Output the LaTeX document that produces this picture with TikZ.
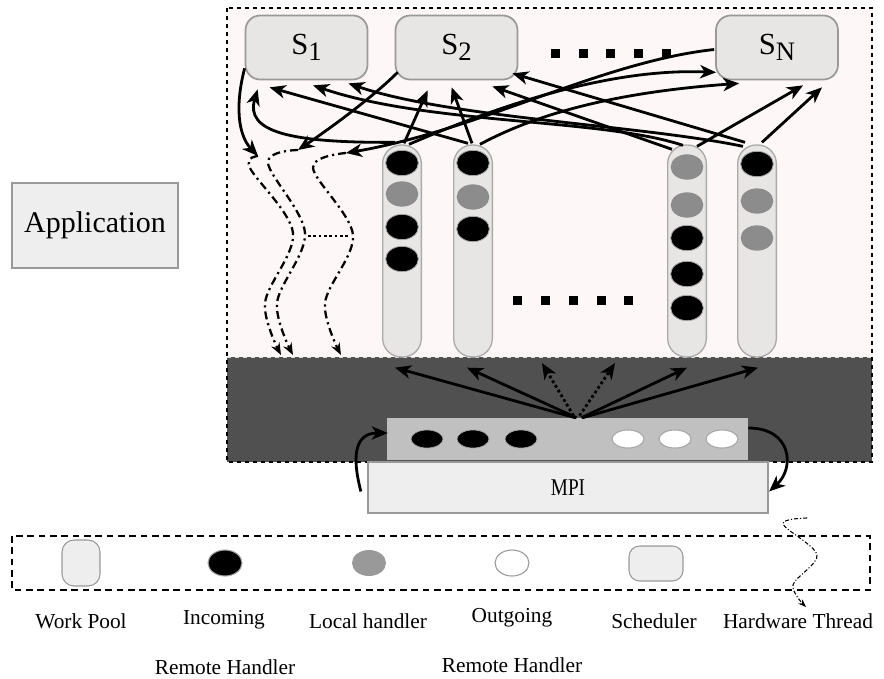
\documentclass[tikz,border=0pt]{standalone}
\usepackage{fontspec}
\setmainfont{Liberation Serif}
\usetikzlibrary{arrows.meta,calc,shapes.geometric}
\definecolor{pinkbg}{HTML}{FDF7F7}
\definecolor{darkband}{HTML}{505050}
\definecolor{poolfill}{HTML}{E8E5E5}
\definecolor{poolborder}{HTML}{AAAAAA}
\definecolor{schedfill}{HTML}{E8E5E5}
\definecolor{schedborder}{HTML}{999999}
\definecolor{handgray}{HTML}{8C8C8C}
\definecolor{leggray}{HTML}{999999}
\definecolor{buffill}{HTML}{C0C0C0}
\definecolor{lightbox}{HTML}{EEEEEE}
\newcommand\schedlabel[1]{{\fontsize{23}{26}\selectfont S\raisebox{-4pt}{\fontsize{20}{22}\selectfont #1}}}
\begin{document}
\begin{tikzpicture}[x=0.75pt,y=-0.75pt,
  sched/.style={draw=schedborder, line width=1.3pt, fill=schedfill, rounded corners=11pt, minimum width=91.5pt, minimum height=48pt, inner sep=0pt},
  pool/.style={draw=poolborder, line width=1pt, fill=poolfill, rounded corners=14pt, minimum width=29pt, minimum height=159pt, inner sep=0pt},
  blk/.style={ellipse, fill=black, draw=gray!70, line width=0.6pt, minimum width=24.5pt, minimum height=19pt, inner sep=0pt},
  gry/.style={ellipse, fill=handgray, minimum width=24.5pt, minimum height=19pt, inner sep=0pt},
  bblk/.style={ellipse, fill=black, draw=gray!70, line width=0.5pt, minimum width=24pt, minimum height=13.5pt, inner sep=0pt},
  bwht/.style={ellipse, fill=white, draw=gray!70, line width=0.8pt, minimum width=24pt, minimum height=13.5pt, inner sep=0pt},
  arr/.style={-{Stealth[length=12pt,width=10pt,inset=3.5pt]}, line width=2.1pt},
  hw/.style={dash pattern=on 6pt off 3pt on 1.6pt off 3pt, line width=1.7pt, -{Stealth[length=9pt,width=7pt,inset=3pt]}},
  lbl/.style={inner sep=0pt, font=\fontsize{16}{19}\selectfont},
  sq/.style={fill=black}
]
\useasboundingbox (0,0) rectangle (884,678);
% background regions
\fill[pinkbg] (227,8) rectangle (872,357);
\fill[darkband] (227,357) rectangle (872,462);
\draw[white!85!black, dashed, line width=0.6pt] (227,357) -- (872,357);
\draw[dashed, line width=0.8pt] (227,8) rectangle (872,462);

% application
\node[draw=schedborder, line width=1pt, fill=lightbox, minimum width=124.5pt, minimum height=63.75pt, inner sep=0pt,
      font=\fontsize{22.5}{27}\selectfont] (app) at (95,225.5) {Application};

% schedulers
\node[sched] (s1) at (306.5,47.5) {\schedlabel{1}};
\node[sched] (s2) at (456.5,47.5) {\schedlabel{2}};
\node[sched] (sn) at (777,47.5) {\schedlabel{N}};
\foreach \x in {555,583,610,638,666} \fill[sq] (\x-4.5,48.5) rectangle (\x+4.5,57.5);

% work pools
\node[pool] (p1) at (402,251) {};
\node[pool] (p2) at (473,251) {};
\node[pool] (p3) at (687,251) {};
\node[pool] (p4) at (757,251) {};
\node[blk] (p1a) at (402,163) {};
\node[gry] (p1b) at (402,194) {};
\node[blk] (p1c) at (402,227) {};
\node[blk] (p1d) at (402,259) {};
\node[blk] (p2a) at (473,163) {};
\node[gry] (p2b) at (473,197) {};
\node[blk] (p2c) at (473,229) {};
\node[gry] (p3a) at (687,167) {};
\node[gry] (p3b) at (687,205) {};
\node[blk] (p3c) at (687,238) {};
\node[blk] (p3d) at (687,274) {};
\node[blk] (p3e) at (687,308) {};
\node[blk] (p4a) at (757,164) {};
\node[gry] (p4b) at (757,201) {};
\node[gry] (p4c) at (757,238) {};
\foreach \x in {517,545,573,601,628} \fill[sq] (\x-4.5,296) rectangle (\x+4.5,305);

% pools -> schedulers
\draw[arr] ($(p1.north)+(-7,-2)$) .. controls (290,143) and (245,132) .. ($(s1.south west)+(13,9)$);
\draw[arr] ($(p1.north)+(2,-1)$) -- ($(s2.south west)+(33,10)$);
\draw[arr] ($(p1.north)+(7,0)$) .. controls (500,105) and (610,68) .. ($(sn.south west)+(1,-8)$);
\draw[arr] ($(p2.north)+(-5,-1)$) -- ($(s1.south west)+(25,7)$);
\draw[arr] ($(p2.north)+(-1,-1)$) -- ($(s2.south west)+(57,7)$);
\draw[arr] ($(p2.north)+(7,0)$) .. controls (540,112) and (620,92) .. ($(sn.south west)+(24,3)$);
\draw[arr] ($(p3.north)+(-4,1)$) .. controls (600,118) and (430,125) .. ($(s1.south)+(6.5,5)$);
\draw[arr] ($(p3.north)+(-15,5)$) -- ($(s2.south east)+(-26,6)$);
\draw[arr] ($(p3.north)+(10,2)$) -- ($(sn.south)+(26,5)$);
\draw[arr] ($(p4.north)+(-14,2)$) .. controls (640,125) and (450,118) .. ($(s1.south east)+(-20,3)$);
\draw[arr] ($(p4.north)+(-12,-2)$) -- ($(s2.south east)+(-6,-7)$);
\draw[arr] ($(p4.north)+(5,-2)$) -- ($(sn.south)+(45,7)$);

% hardware threads
\coordinate (h1) at (258,156);
\coordinate (h2) at (298,150);
\coordinate (h3) at (346,153);
\draw[arr] ($(s1.south west)+(0,-12)$) .. controls (235,105) and (238,135) .. (h1);
\draw[arr] ($(s2.south west)+(3,-8)$) .. controls (375,95) and (335,125) .. (h2);
\draw[arr] ($(sn.west)+(-1,2)$) .. controls (600,62) and (480,130) .. (h3);
\draw[hw] plot[smooth, tension=0.55] coordinates {(h1) (250,168) (293,233) (265,303) (281,355)};
\draw[hw] plot[smooth, tension=0.55] coordinates {(h2) (268,163) (305,233) (277,303) (293,355)};
\draw[hw] plot[smooth, tension=0.55] coordinates {(h3) (313,168) (353,235) (325,303) (341,355)};
\coordinate (dl) at (308,236);
\coordinate (dr) at (349,236);
\draw[dotted, line width=2pt] (dl) -- (dr);

% buffer and MPI
\node[fill=buffill, minimum width=270.75pt, minimum height=31.5pt, inner sep=0pt] (buf) at (567.5,439) {};
\node[bblk] (b1) at (427,439) {};
\node[bblk] (b2) at (473,439) {};
\node[bblk] (b3) at (521,439) {};
\node[bwht] (w1) at (628,439) {};
\node[bwht] (w2) at (675,439) {};
\node[bwht] (w3) at (722,439) {};
\node[draw=schedborder, line width=1.6pt, fill=lightbox, minimum width=300pt, minimum height=38pt, inner sep=0pt,
      font=\fontsize{18}{21}\selectfont] (mpi) at (568,487.5) {\scalebox{0.8}[1]{MPI}};

% buffer -> pools
\coordinate (d1) at (542,363);
\coordinate (d2) at (615,363);
\draw[arr] ($(buf.north)+(8,0)$) -- ($(p1.south)+(-7,10)$);
\draw[arr] ($(buf.north)+(9,0)$) -- ($(p2.south)+(-6,10)$);
\draw[arr, dotted] ($(buf.north)+(6,-2)$) -- (d1);
\draw[arr, dotted] ($(buf.north)+(12,-2)$) -- (d2);
\draw[arr] ($(buf.north)+(14,0)$) -- ($(p3.south)+(0,10)$);
\draw[arr] ($(buf.north)+(15,0)$) -- ($(p4.south)+(1,10)$);

% loops
\draw[arr] ($(mpi.west)+(-6,4)$) .. controls (350,450) and (358,433) .. ($(buf.west)+(1,-6)$);
\draw[arr] ($(buf.east)+(0,-11)$) .. controls (792,428) and (795,468) .. ($(mpi.east)+(0,4)$);

% legend
\draw[dash pattern=on 5pt off 3.5pt, line width=1pt] (12,536) rectangle (870,590);
\node[draw=schedborder, line width=0.8pt, fill=lightbox, rounded corners=9pt, minimum width=28.5pt, minimum height=34.5pt, inner sep=0pt] (lwp) at (81,563) {};
\node[ellipse, fill=black, draw=gray!70, line width=0.8pt, minimum width=25.5pt, minimum height=19.5pt, inner sep=0pt] (lin) at (225,563) {};
\node[ellipse, fill=leggray, minimum width=25.5pt, minimum height=19.5pt, inner sep=0pt] (llh) at (369,563) {};
\node[ellipse, fill=white, draw=leggray, line width=0.8pt, minimum width=25.5pt, minimum height=19.5pt, inner sep=0pt] (lout) at (512,563) {};
\node[draw=schedborder, line width=0.8pt, fill=lightbox, rounded corners=8pt, minimum width=40.5pt, minimum height=26.25pt, inner sep=0pt] (lsch) at (656,563.5) {};
\coordinate (lh0) at (807,518);
\draw[dash pattern=on 3pt off 1.5pt on 0.8pt off 1.5pt, line width=0.8pt, -{Stealth[length=6pt,width=4.5pt,inset=2pt]}] plot[smooth, tension=0.55] coordinates {(lh0) (783,524) (817,555) (793,585) (806,607)};

\node[lbl] (t1) at (81,621) {Work Pool};
\node[lbl] (t2) at (224,620) {Incoming};
\node[lbl] (t3) at (368,621) {Local handler};
\node[lbl] (t4) at (512,618) {Outgoing};
\node[lbl] (t5) at (654,621) {Scheduler};
\node[lbl] (t6) at (798,621) {Hardware Thread};
\node[lbl] (t7) at (225,667) {Remote Handler};
\node[lbl] (t8) at (512,665) {Remote Handler};
\end{tikzpicture}
\end{document}
